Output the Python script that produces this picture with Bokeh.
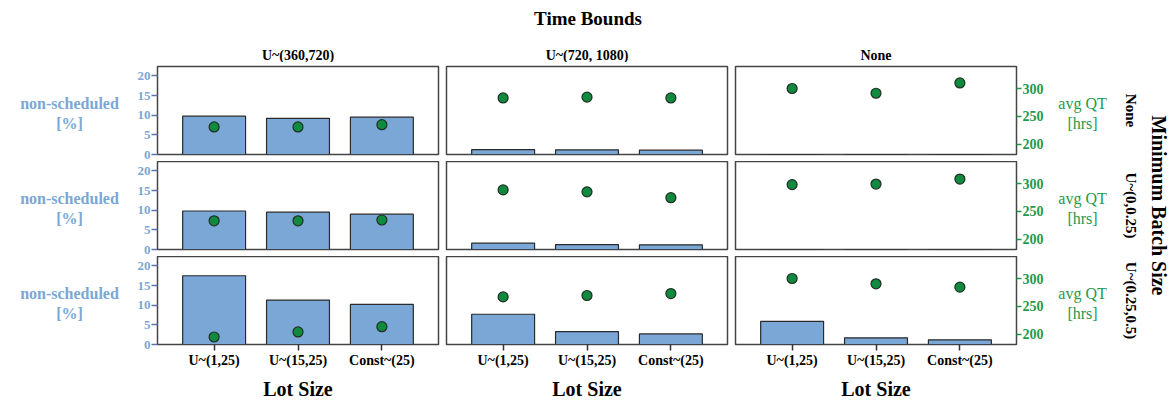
import math
from bokeh.plotting import figure
from bokeh.layouts import row, column
from bokeh.models import (Range1d, FactorRange, LinearAxis, CategoricalAxis,
                          Label, FixedTicker, ColumnDataSource)
from bokeh.embed import file_html
from bokeh.resources import INLINE

# ---------------- data ----------------
lot_sizes = ["U~(1,25)", "U~(15,25)", "Const~(25)"]
time_bounds = ["U~(360,720)", "U~(720, 1080)", "None"]
batch_sizes = ["None", "U~(0,0.25)", "U~(0.25,0.5)"]

# non-scheduled [%]; one list per minimum batch size, inner lists per time bound
nonsched_none = [[9.75, 9.2, 9.5], [1.25, 1.2, 1.1], [0.0, 0.0, 0.0]]
nonsched_low = [[9.8, 9.5, 9.0], [1.6, 1.25, 1.2], [0.0, 0.0, 0.0]]
nonsched_high = [[17.5, 11.3, 10.2], [7.7, 3.3, 2.7], [5.9, 1.7, 1.2]]

# avg QT [hrs]
qt_none = [[231, 231, 235], [283, 284.5, 283], [300, 291.5, 310]]
qt_low = [[233, 233, 234.5], [288.5, 285, 274.5], [298, 299, 308]]
qt_high = [[195, 204, 213.5], [267, 269.5, 273], [300, 290.5, 284.5]]

left_ticks = [0, 5, 10, 15, 20]
right_ticks = [200, 250, 300]

nonsched = [nonsched_none, nonsched_low, nonsched_high]
qt = [qt_none, qt_low, qt_high]

# ---------------- style ----------------
FONT = "Liberation Serif"
BAR_FILL = "#7ba7d6"
BAR_LINE = "#2a2a2a"
PT_FILL = "#0f8a3e"
PT_LINE = "#1f2f22"
BLUE_TXT = "#7ba7d6"
BLUE_TICK = "#5f72b4"
GREEN = "#1e9a4b"
FRAME_W, FRAME_H = 281, 88
col_borders = [(29, 4), (4, 4), (4, 33)]
row_borders = [(4, 7), (0, 7), (0, 26)]
TOP_H, BOTTOM_H, LEFT_W, RIGHT_W = 62, 30, 128, 120


def txt_label(x, y, text, size, color="black", bold=True, angle=0.0):
    return Label(x=x, y=y, x_units="canvas", y_units="canvas", text=text,
                 angle=angle, text_align="center", text_baseline="middle",
                 text_font=FONT, text_font_style="bold" if bold else "normal",
                 text_font_size=size, text_color=color)


def strip_fig(w, h):
    s = figure(width=w, height=h, x_range=Range1d(0, 1), y_range=Range1d(0, 1),
               x_axis_location=None, y_axis_location=None, toolbar_location=None,
               output_backend="svg", min_border=0)
    s.outline_line_color = None
    s.grid.visible = False
    return s


def style_axis(ax, tick_color, label_color, out, size="14px"):
    ax.axis_line_color = None
    ax.major_tick_line_color = tick_color
    ax.major_tick_line_width = 1.5
    ax.major_tick_in = 0
    ax.major_tick_out = out
    ax.minor_tick_line_color = None
    ax.major_label_standoff = 2
    ax.major_label_text_font = FONT
    ax.major_label_text_font_style = "bold"
    ax.major_label_text_font_size = size
    ax.major_label_text_color = label_color


def make_panel(r, c):
    bl, br = col_borders[c]
    bt, bb = row_borders[r]
    p = figure(width=bl + FRAME_W + br, height=bt + FRAME_H + bb,
               x_range=FactorRange(*lot_sizes, range_padding=0.175,
                                   range_padding_units="absolute"),
               y_range=Range1d(0, 22.4),
               x_axis_location=None, y_axis_location=None,
               toolbar_location=None, output_backend="svg",
               min_border_left=bl, min_border_right=br,
               min_border_top=bt, min_border_bottom=bb)
    p.extra_y_ranges = {"qt": Range1d(181.5, 339.5)}
    p.grid.visible = False
    p.outline_line_color = "#454545"
    p.outline_line_width = 1.5

    src = ColumnDataSource(dict(x=lot_sizes, top=nonsched[r][c], qt=qt[r][c]))
    p.vbar(x="x", top="top", width=0.75, source=src, fill_color=BAR_FILL,
           line_color=BAR_LINE, line_width=1.2)
    p.scatter(x="x", y="qt", source=src, y_range_name="qt", size=10,
              fill_color=PT_FILL, line_color=PT_LINE, line_width=1.2)

    if c == 0:
        ax = LinearAxis(ticker=FixedTicker(ticks=left_ticks))
        style_axis(ax, BLUE_TICK, BLUE_TXT, 6, "13px")
        ax.major_label_standoff = 1
        p.add_layout(ax, "left")
    if c == 2:
        ax = LinearAxis(y_range_name="qt", ticker=FixedTicker(ticks=right_ticks))
        style_axis(ax, GREEN, GREEN, 5)
        ax.major_label_standoff = 1
        p.add_layout(ax, "right")
    if r == 2:
        ax = CategoricalAxis()
        style_axis(ax, "#333333", "black", 6)
        p.add_layout(ax, "below")
    return p


# panel grid
panel_rows = [row(*[make_panel(r, c) for c in range(3)]) for r in range(3)]
grid = column(*panel_rows)
grid_h = sum(bt + FRAME_H + bb for bt, bb in row_borders)
panel_w = [bl + FRAME_W + br for bl, br in col_borders]
total_w = LEFT_W + sum(panel_w) + RIGHT_W

# frame centres (x within the full width, y within the grid)
col_cx = []
xpos = LEFT_W
for (bl, br), w in zip(col_borders, panel_w):
    col_cx.append(xpos + bl + FRAME_W / 2)
    xpos += w
row_cy = []
ypos = 0
for bt, bb in row_borders:
    row_cy.append(ypos + bt + FRAME_H / 2)
    ypos += bt + FRAME_H + bb

# top strip: overall title and column titles
top = strip_fig(total_w, TOP_H)
top.add_layout(txt_label(col_cx[1] + 1, 18, "Time Bounds", "19px"))
for c in range(3):
    top.add_layout(txt_label(col_cx[c], 55, time_bounds[c], "14px"))

# left strip: bar axis titles
left = strip_fig(LEFT_W, grid_h)
for r in range(3):
    left.add_layout(txt_label(69, row_cy[r] - 7, "non-scheduled", "16px", BLUE_TXT))
    left.add_layout(txt_label(69, row_cy[r] + 13, "[%]", "16px", BLUE_TXT))

# right strip: QT axis titles, row titles, facet title
right = strip_fig(RIGHT_W, grid_h)
for r in range(3):
    right.add_layout(txt_label(33, row_cy[r] - 7, "avg QT", "16px", GREEN, bold=False))
    right.add_layout(txt_label(33, row_cy[r] + 13, "[hrs]", "16px", GREEN, bold=False))
    right.add_layout(txt_label(81, row_cy[r], batch_sizes[r], "15px",
                               angle=-math.pi / 2))
right.add_layout(txt_label(109, row_cy[1], "Minimum Batch Size", "20px",
                           angle=-math.pi / 2))

# bottom strip: x-axis titles
bottom = strip_fig(total_w, BOTTOM_H)
for c in range(3):
    bottom.add_layout(txt_label(col_cx[c], 18, "Lot Size", "20px"))

layout = column(top, row(left, grid, right), bottom)
open("out.html", "w").write(file_html(layout, INLINE))
